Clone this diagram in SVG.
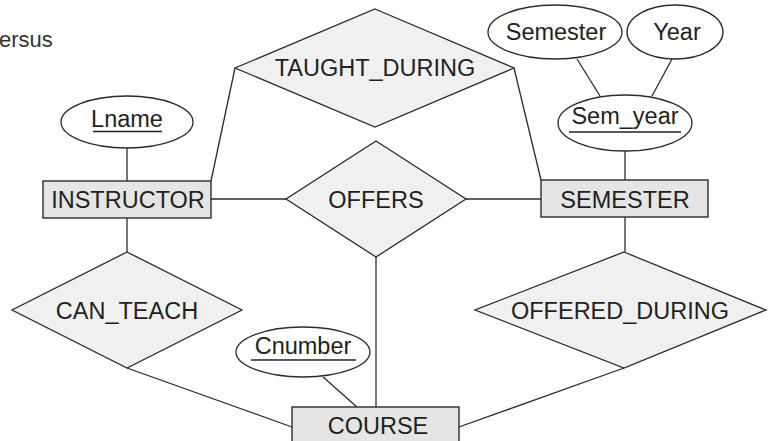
<svg xmlns="http://www.w3.org/2000/svg" width="768" height="441" viewBox="0 0 768 441">
<style>
.ln{stroke:#2b2b2b;stroke-width:1.3;fill:none}
.ent{fill:#e5e5e5;stroke:#2b2b2b;stroke-width:1.4}
.rel{fill:#f0f0f0;stroke:#2b2b2b;stroke-width:1.3}
.att{fill:#ffffff;stroke:#2b2b2b;stroke-width:1.3}
.t{font-family:"Liberation Sans",Arial,sans-serif;font-size:23.5px;fill:#231f20;text-anchor:middle}
.ul{stroke:#231f20;stroke-width:1.5}
</style>
<rect width="768" height="441" fill="#ffffff"/>
<text x="-1" y="47" style="font-family:'Liberation Sans',Arial,sans-serif;font-size:22px;fill:#333">ersus</text>
<g id="connectors">
<line class="ln" x1="127" y1="148" x2="127" y2="181"/>
<line class="ln" x1="127" y1="218" x2="127" y2="252"/>
<line class="ln" x1="235" y1="68" x2="211" y2="181"/>
<line class="ln" x1="514" y1="68" x2="541" y2="180"/>
<line class="ln" x1="211" y1="199" x2="286" y2="199"/>
<line class="ln" x1="466" y1="199" x2="541" y2="199"/>
<line class="ln" x1="577" y1="59" x2="600" y2="96"/>
<line class="ln" x1="672" y1="59" x2="652" y2="96"/>
<line class="ln" x1="625" y1="151" x2="625" y2="180"/>
<line class="ln" x1="625" y1="217" x2="625" y2="252"/>
<line class="ln" x1="376" y1="257" x2="376" y2="407"/>
<line class="ln" x1="127" y1="368" x2="292" y2="427"/>
<line class="ln" x1="624" y1="368" x2="459" y2="427"/>
<line class="ln" x1="323" y1="377" x2="357" y2="407"/>
</g>
<g id="TAUGHT_DURING">
<polygon class="rel" points="375,9 514,68 375,127 235,68"/>
<text class="t" x="375" y="76">TAUGHT_DURING</text>
</g>
<g id="OFFERS">
<polygon class="rel" points="376,141 466,199 376,257 286,199"/>
<text class="t" x="376" y="208">OFFERS</text>
</g>
<g id="CAN_TEACH">
<polygon class="rel" points="127,252 242,310 127,368 12,310"/>
<text class="t" x="127" y="319">CAN_TEACH</text>
</g>
<g id="OFFERED_DURING">
<polygon class="rel" points="624,252 766,310 624,368 475,310"/>
<text class="t" x="620" y="319">OFFERED_DURING</text>
</g>
<g id="INSTRUCTOR">
<rect class="ent" x="43" y="181" width="168" height="37"/>
<text class="t" x="128" y="208">INSTRUCTOR</text>
</g>
<g id="SEMESTER">
<rect class="ent" x="541" y="180" width="167" height="37"/>
<text class="t" x="625" y="208">SEMESTER</text>
</g>
<g id="COURSE">
<rect class="ent" x="292" y="407" width="167" height="40"/>
<text class="t" x="378" y="434">COURSE</text>
</g>
<g id="Lname">
<ellipse class="att" cx="127" cy="122" rx="66" ry="26"/>
<text class="t" x="127" y="127">Lname</text>
<line class="ul" x1="93" y1="131.5" x2="162" y2="131.5"/>
</g>
<g id="Semester">
<ellipse class="att" cx="555" cy="32" rx="67" ry="27"/>
<text class="t" x="556" y="40">Semester</text>
</g>
<g id="Year">
<ellipse class="att" cx="675" cy="32" rx="48" ry="27"/>
<text class="t" x="677" y="40">Year</text>
</g>
<g id="Sem_year">
<ellipse class="att" cx="625" cy="123" rx="67" ry="28"/>
<text class="t" x="625" y="124">Sem_year</text>
<line class="ul" x1="569" y1="132" x2="681" y2="132"/>
</g>
<g id="Cnumber">
<ellipse class="att" cx="303" cy="352" rx="67" ry="25"/>
<text class="t" x="303" y="354">Cnumber</text>
<line class="ul" x1="251" y1="360" x2="356" y2="360"/>
</g>
</svg>
